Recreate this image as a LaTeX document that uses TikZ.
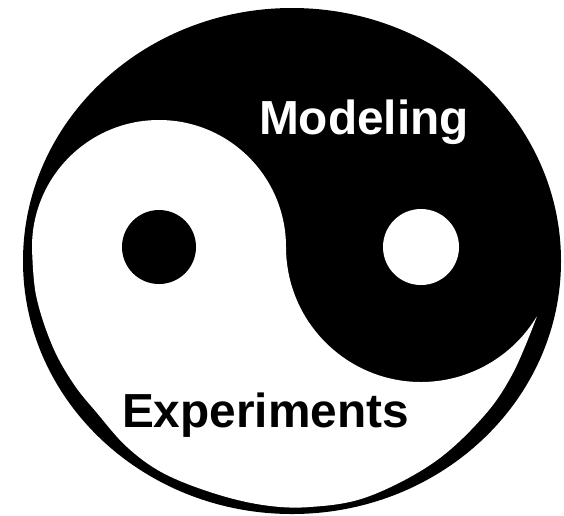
\documentclass[tikz,border=0pt]{standalone}
\usepackage{fontspec}
\setmainfont{Liberation Sans}

\begin{document}
\begin{tikzpicture}[x=0.02cm, y=-0.02cm, lbl/.style={font=\fontsize{27.2}{30}\selectfont\bfseries, anchor=base, inner sep=0pt}]
    \useasboundingbox (0, 0) rectangle (564, 515);

    % Outer disc
    \fill[black] (292, 261) ellipse [x radius=269, y radius=253];

    % White side
    \fill[white] (32, 247) arc (180:360:127) arc (180:31:135)
        -- plot[smooth, tension=0.6] coordinates {
            (536.7, 317) (513, 373) (483, 417) (433, 463) (367, 497) (310, 507) (263, 505)
            (213, 493) (163, 473) (127, 447) (97, 413) (73, 383) (52, 345) (36, 295) (32, 247)
        } -- cycle;

    % Dots
    \fill[black] (159, 247) circle (37);
    \fill[white] (421, 247) circle (38);

    % Labels
    \node[lbl, text=white] (modeling) at (364, 134) {Modeling};
    \node[lbl, text=black] (experiments) at (265.5, 427) {Experiments};
\end{tikzpicture}
\end{document}
